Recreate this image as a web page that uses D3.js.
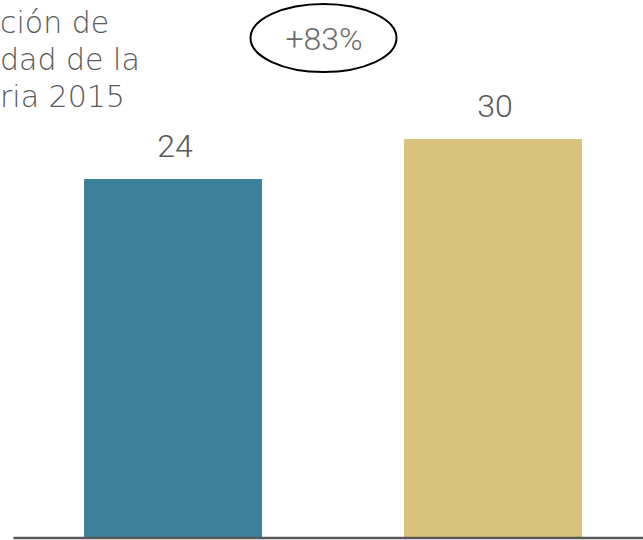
<!DOCTYPE html>
<html>
<head>
<meta charset="utf-8">
<script src="https://cdn.jsdelivr.net/npm/d3@7"></script>
<style>
  body { margin: 0; background: #fff; }
  svg { display: block; }
</style>
</head>
<body>
<div id="chart"></div>
<script>
const WIDTH = 643;
const HEIGHT = 540;

// data
const CATEGORIES = ["Anterior", "2015"];
const VALUES = [24, 30];
const BAR_COLORS = ["#3c8199", "#d9c27b"];
const TITLE_LINES = ["ción de", "dad de la", "ria 2015"];
const CHANGE_LABEL = "+83%";

const BASE_Y = 537;
const FONT = "Roboto, 'Liberation Sans', sans-serif";
const TITLE_FONT = "'DejaVu Sans', sans-serif";

const svg = d3.select("#chart")
  .append("svg")
  .attr("width", WIDTH)
  .attr("height", HEIGHT);

const X_SCALE = d3.scaleBand()
  .domain(CATEGORIES)
  .range([13, 653])
  .paddingInner(0.444)
  .paddingOuter(0.222);

// value axis is truncated in the original, anchored on the two bar tops
const Y_SCALE = d3.scaleLinear()
  .domain([24, 30])
  .range([179, 139]);

svg.selectAll("rect.bar")
  .data(VALUES)
  .enter()
  .append("rect")
  .attr("class", "bar")
  .attr("x", (d, i) => X_SCALE(CATEGORIES[i]))
  .attr("y", (d) => Y_SCALE(d))
  .attr("width", X_SCALE.bandwidth())
  .attr("height", (d) => BASE_Y - Y_SCALE(d))
  .attr("fill", (d, i) => BAR_COLORS[i]);

// baseline
const axis = svg.append("g")
  .attr("transform", `translate(0,${BASE_Y + 0.5})`)
  .call(d3.axisBottom(X_SCALE).tickValues([]).tickSizeOuter(0));
axis.select(".domain")
  .attr("stroke", "#595959")
  .attr("stroke-width", 2.5);

// value labels
svg.selectAll("text.value")
  .data(VALUES)
  .enter()
  .append("text")
  .attr("class", "value")
  .attr("x", (d, i) => X_SCALE(CATEGORIES[i]) + X_SCALE.bandwidth() / 2 + 2)
  .attr("y", (d) => Y_SCALE(d) - 22)
  .attr("text-anchor", "middle")
  .attr("fill", "#595959")
  .style("font-family", FONT)
  .style("font-weight", 300)
  .style("font-size", "32px")
  .text((d) => d);

// title, cut off at the left edge in the original
svg.append("text")
  .attr("fill", "#595959")
  .style("font-family", TITLE_FONT)
  .style("font-weight", 300)
  .style("font-size", "30px")
  .selectAll("tspan")
  .data(TITLE_LINES)
  .enter()
  .append("tspan")
  .attr("x", 0)
  .attr("y", (d, i) => 33 + i * 37)
  .text((d) => d);

// change callout
svg.append("ellipse")
  .attr("cx", 323.5)
  .attr("cy", 38)
  .attr("rx", 73)
  .attr("ry", 34)
  .attr("fill", "none")
  .attr("stroke", "#000")
  .attr("stroke-width", 2);

svg.append("text")
  .attr("x", 324)
  .attr("y", 50)
  .attr("text-anchor", "middle")
  .attr("fill", "#6b6b6b")
  .style("font-family", FONT)
  .style("font-weight", 300)
  .style("font-size", "32px")
  .text(CHANGE_LABEL);
</script>
</body>
</html>
